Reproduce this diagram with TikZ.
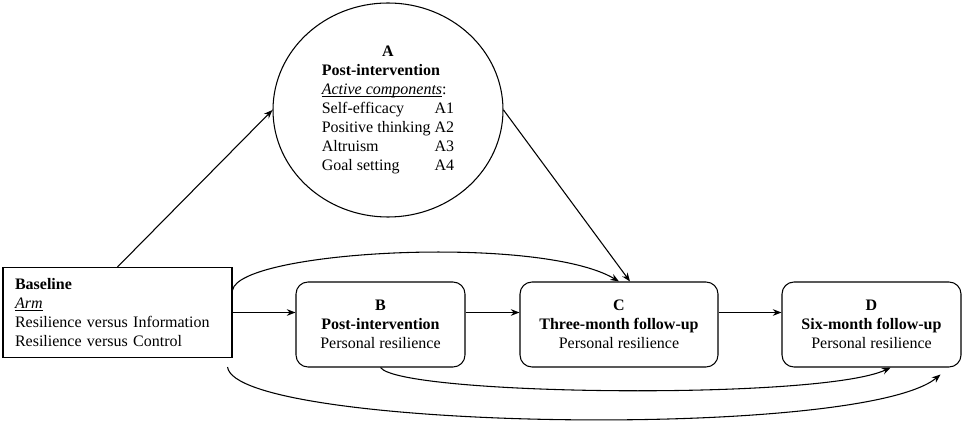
\documentclass[tikz,border=0pt]{standalone}
\usepackage{fontspec}
\setmainfont{Liberation Serif}
\usetikzlibrary{shapes.geometric,arrows.meta,calc}

\newcommand{\ulnword}[1]{\underline{\smash{#1}}}

\tikzset{every picture/.style={line width=0.8pt}}
\tikzset{
  txt/.style={font=\fontsize{12}{14.2}\selectfont},
  basebox/.style={txt,draw,rectangle,inner xsep=9pt,inner ysep=0pt,text width=153.75pt,minimum height=67.5pt,align=left},
  stagebox/.style={txt,draw,rectangle,rounded corners=9pt,inner sep=0pt,minimum height=63.75pt,align=center},
  compell/.style={txt,draw,ellipse,inner sep=0pt,minimum width=172.5pt,minimum height=160.5pt},
  arr/.style={-{Stealth[length=6.5pt,width=5pt]}}
}

\begin{document}
\begin{tikzpicture}[x=0.75pt,y=0.75pt,yscale=-1,xscale=1]
    \useasboundingbox (0,0) rectangle (964,424);

    %Shape: Rectangle [baseline]
    \node [basebox] (base) at (117.5,312.5) {\textbf{Baseline}\\\ulnword{\textit{Arm}}\\Resilience versus Information\\Resilience versus Control};
    %Shape: Ellipse [A]
    \node [compell] (A) at (388,110) {\begin{tabular}{@{}l@{\hspace{0.25em}}l@{}}
        \multicolumn{2}{@{}c@{}}{\textbf{A}}\\
        \multicolumn{2}{@{}l@{}}{\textbf{Post-intervention}}\\
        \multicolumn{2}{@{}l@{}}{\ulnword{\textit{Active components}}:}\\
        Self-efficacy & A1\\
        Positive thinking & A2\\
        Altruism & A3\\
        Goal setting & A4
      \end{tabular}};
    %Shape: Rounded Rect [B]
    \node [stagebox,minimum width=126.75pt] (B) at (380.5,324.5) {\textbf{B}\\\textbf{Post-intervention}\\Personal resilience};
    %Shape: Rounded Rect [C]
    \node [stagebox,minimum width=148.5pt] (C) at (619,324.5) {\textbf{C}\\\textbf{Three-month follow-up}\\Personal resilience};
    %Shape: Rounded Rect [D]
    \node [stagebox,minimum width=134.25pt] (D) at (871.5,324.5) {\textbf{D}\\\textbf{Six-month follow-up}\\Personal resilience};

    %Straight Lines
    \draw [arr] (base.north) -- (A.west);
    \draw [arr] (A.east) -- ($(C.north)+(11,0)$);
    \draw [arr] (base.east) -- (base.east -| B.west);
    \draw [arr] (B.east |- base.east) -- (C.west |- base.east);
    \draw [arr] (C.east |- base.east) -- (D.west |- base.east);

    %Curve Lines
    \draw [arr] (base.11) .. controls +(7,-40) and +(-79,-47) .. (C.north);
    \draw [arr] (B.south) .. controls +(20,28) and +(-70,33) .. (D.-66.5);
    \draw [arr] ($(base.south east)+(-5,9)$) .. controls +(8,63) and +(-80,66) .. ($(D.south east)+(-21,7)$);

\end{tikzpicture}
\end{document}
